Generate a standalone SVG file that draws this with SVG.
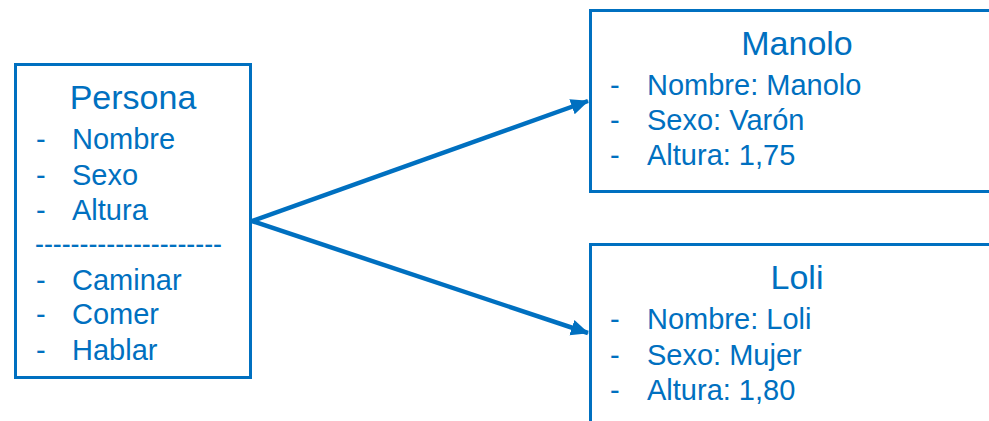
<svg xmlns="http://www.w3.org/2000/svg" width="989" height="421" viewBox="0 0 989 421">
<style>
.box{fill:#fff;stroke:#0070C0;stroke-width:3}
text{font-family:"Liberation Sans",Arial,sans-serif;fill:#0070C0}
.t{font-size:34px;text-anchor:middle}
.i{font-size:29px}
.c{stroke:#0070C0;stroke-width:4.5;fill:none}
</style>
<defs>
<marker id="ah" markerUnits="userSpaceOnUse" markerWidth="20" markerHeight="18" refX="17" refY="8" orient="auto">
<path d="M0,0 L18,8 L0,16 Z" fill="#0070C0"/>
</marker>
</defs>
<rect width="989" height="421" fill="#fff"/>
<g id="persona">
<rect class="box" x="15.5" y="64.5" width="235" height="313"/>
<text class="t" x="133" y="109">Persona</text>
<text class="i" x="36" y="149">-</text><text class="i" x="72" y="149">Nombre</text>
<text class="i" x="36" y="185">-</text><text class="i" x="72" y="185">Sexo</text>
<text class="i" x="36" y="220">-</text><text class="i" x="72" y="220">Altura</text>
<text class="i" x="35" y="254" textLength="187" lengthAdjust="spacingAndGlyphs">---------------------</text>
<text class="i" x="36" y="290">-</text><text class="i" x="72" y="290">Caminar</text>
<text class="i" x="36" y="324">-</text><text class="i" x="72" y="324">Comer</text>
<text class="i" x="36" y="360">-</text><text class="i" x="72" y="360">Hablar</text>
</g>
<g id="manolo">
<rect class="box" x="590.5" y="10.5" width="420" height="181"/>
<text class="t" x="797" y="55">Manolo</text>
<text class="i" x="610" y="95">-</text><text class="i" x="647" y="95">Nombre: Manolo</text>
<text class="i" x="610" y="130">-</text><text class="i" x="647" y="130">Sexo: Varón</text>
<text class="i" x="610" y="165">-</text><text class="i" x="647" y="165">Altura: 1,75</text>
</g>
<g id="loli">
<rect class="box" x="590.5" y="244.5" width="420" height="200"/>
<text class="t" x="797" y="289">Loli</text>
<text class="i" x="610" y="329">-</text><text class="i" x="647" y="329">Nombre: Loli</text>
<text class="i" x="610" y="365">-</text><text class="i" x="647" y="365">Sexo: Mujer</text>
<text class="i" x="610" y="400">-</text><text class="i" x="647" y="400">Altura: 1,80</text>
</g>
<g id="connectors">
<line class="c" x1="252" y1="221" x2="588" y2="101" marker-end="url(#ah)"/>
<line class="c" x1="252" y1="221" x2="588" y2="333" marker-end="url(#ah)"/>
</g>
</svg>
